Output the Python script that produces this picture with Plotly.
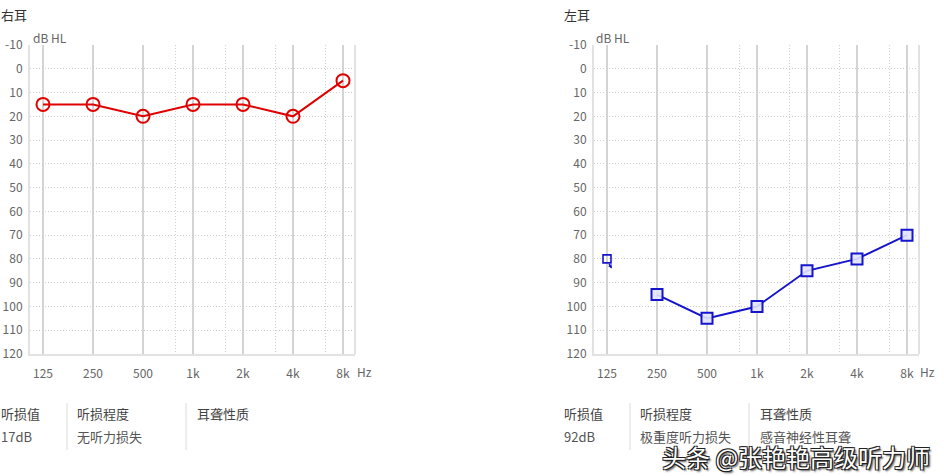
import plotly.graph_objects as go

# ---- data ----
freqs = ["125", "250", "500", "1k", "2k", "4k", "8k"]
right_db = [15, 15, 20, 15, 15, 20, 5]
left_db = [None, 95, 105, 100, 85, 80, 70]
left_noresp_freq = ["125"]
left_noresp_db = [80]
db_ticks = [-10, 0, 10, 20, 30, 40, 50, 60, 70, 80, 90, 100, 110, 120]
right_info = ["17dB", "无听力损失", ""]
left_info = ["92dB", "极重度听力损失", "感音神经性耳聋"]
info_heads = ["听损值", "听损程度", "耳聋性质"]

W, H = 944, 476
FONT = "Noto Sans CJK SC, Microsoft YaHei, sans-serif"
idx = {f: i for i, f in enumerate(freqs)}
xs = [idx[f] for f in freqs]

def X(px):
    return px / W

def Y(py):
    return 1 - py / H

RED = "#e00000"
BLUE = "#1414cc"

fig = go.Figure()

fig.add_trace(go.Scatter(
    x=xs, y=right_db, mode="lines+markers", xaxis="x", yaxis="y",
    line=dict(color=RED, width=2),
    marker=dict(symbol="circle-open", size=13, color=RED, line=dict(width=2)),
    showlegend=False, hoverinfo="skip"))

fig.add_trace(go.Scatter(
    x=xs, y=left_db, mode="lines+markers", xaxis="x2", yaxis="y2",
    line=dict(color=BLUE, width=2), connectgaps=False,
    marker=dict(symbol="square", size=11, color="rgba(225,228,255,0.9)",
                line=dict(width=2, color=BLUE)),
    showlegend=False, hoverinfo="skip"))

fig.add_trace(go.Scatter(
    x=[idx[f] for f in left_noresp_freq], y=left_noresp_db, mode="markers",
    xaxis="x2", yaxis="y2",
    marker=dict(symbol="square-open", size=8, color=BLUE, line=dict(width=1.6)),
    showlegend=False, hoverinfo="skip"))

for f, d in zip(left_noresp_freq, left_noresp_db):
    fig.add_annotation(x=idx[f] + 0.1, y=d + 4, xref="x2", yref="y2",
                       ax=-4, ay=-6, showarrow=True, arrowhead=2,
                       arrowsize=0.6, arrowwidth=1.3, arrowcolor=BLUE, text="")

ydom = [Y(354), Y(45)]
xdoms = [[X(30), X(355)], [X(594), X(919)]]
DOT = "1px,2px"

def xaxis_cfg(dom, anchor):
    return dict(
        domain=dom, anchor=anchor, range=[-0.26, 6.24], automargin=False,
        tickmode="array", tickvals=xs, ticktext=freqs,
        showgrid=True, gridcolor="#d4d4d4", gridwidth=2,
        showline=True, linecolor="#e2e2e2", linewidth=2, mirror=False,
        ticks="", ticklabelstandoff=8, zeroline=False,
        tickfont=dict(family=FONT, size=12, color="#666"),
        minor=dict(tickmode="array", tickvals=[2.65, 3.65, 4.65, 5.65],
                   showgrid=True, gridcolor="#cfcfcf", griddash=DOT, gridwidth=1),
        fixedrange=True)

def yaxis_cfg(anchor):
    return dict(
        domain=ydom, anchor=anchor, range=[120, -10], automargin=False,
        tickmode="array", tickvals=db_ticks, ticktext=[str(v) for v in db_ticks],
        showgrid=True, gridcolor="#cfcfcf", griddash=DOT, gridwidth=1,
        showline=True, linecolor="#e2e2e2", linewidth=2,
        ticks="", ticklabelstandoff=3, zeroline=False,
        tickfont=dict(family=FONT, size=12, color="#666"),
        fixedrange=True)

fig.update_layout(
    width=W, height=H, autosize=False,
    margin=dict(l=0, r=0, t=0, b=0, autoexpand=False),
    paper_bgcolor="white", plot_bgcolor="white",
    xaxis=xaxis_cfg(xdoms[0], "y"),
    yaxis=yaxis_cfg("x"),
    xaxis2=xaxis_cfg(xdoms[1], "y2"),
    yaxis2=yaxis_cfg("x2"),
)

# right borders of the plot areas
for dom in xdoms:
    fig.add_shape(type="line", xref="paper", yref="paper",
                  x0=dom[1], x1=dom[1], y0=ydom[0], y1=ydom[1],
                  line=dict(color="#e2e2e2", width=2))

def txt(px, py, s, size=13, color="#333", xanchor="left"):
    fig.add_annotation(x=X(px), y=Y(py), xref="paper", yref="paper",
                       text=s, showarrow=False, xanchor=xanchor, yanchor="middle",
                       font=dict(family=FONT, size=size, color=color))

panels = [(0, "右耳", right_info), (563, "左耳", left_info)]
for off, title, info in panels:
    txt(off - 1, 14, title, size=13, color="#333")
    txt(off + 31, 38, "dB HL", size=12, color="#666")
    txt(off + 355, 371, "Hz", size=12, color="#666")
    cols = [off - 1, off + 75, off + 195]
    for c, head, val in zip(cols, info_heads, info):
        txt(c, 413, head, size=13, color="#444")
        if val:
            txt(c, 436, val, size=13, color="#555")
    for sx in [off + 67, off + 186]:
        fig.add_shape(type="line", xref="paper", yref="paper",
                      x0=X(sx), x1=X(sx), y0=Y(403), y1=Y(450),
                      line=dict(color="#dcdcdc", width=1))

# watermark
fig.add_annotation(x=X(932), y=Y(456), xref="paper", yref="paper",
                   text="头条 @张艳艳高级听力师", showarrow=False,
                   xanchor="right", yanchor="middle",
                   font=dict(family=FONT, size=24, color="white",
                             shadow="-1px -1px 0 #222, 1px -1px 0 #222, -1px 1px 0 #222, 1px 1px 0 #222, 2px 2px 2px #444"))

fig.write_html("out.html",
               config={"displayModeBar": False, "staticPlot": True},
               post_script="document.body.style.margin='0';document.body.style.overflow='hidden';")
